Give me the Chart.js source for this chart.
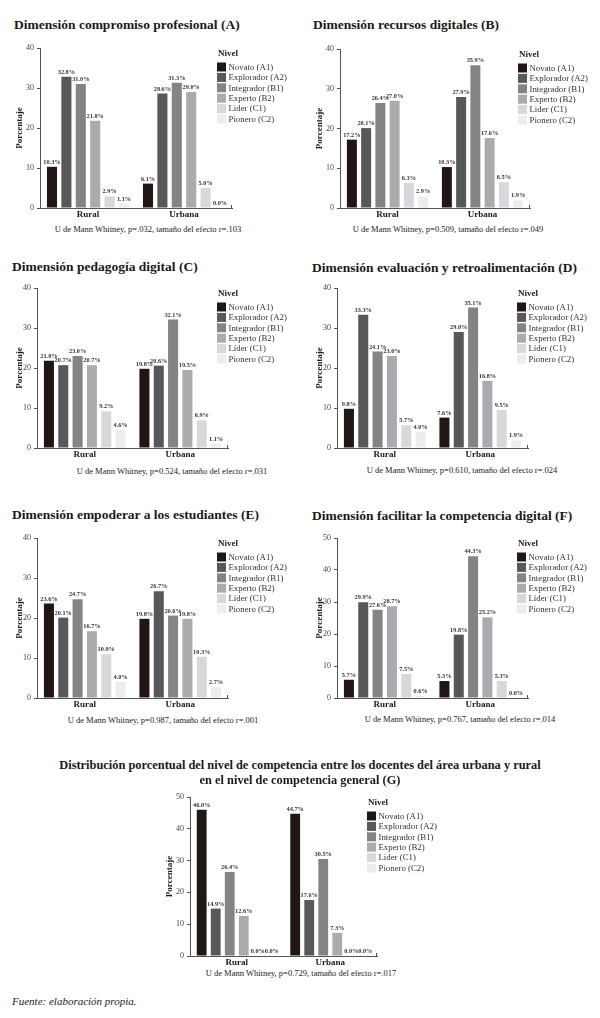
<!DOCTYPE html>
<html>
<head>
<meta charset="utf-8">
<script src="https://cdn.jsdelivr.net/npm/chart.js@4.4.1/dist/chart.umd.min.js"></script>
<style>
  body { margin: 0; background: #fff; width: 600px; height: 1018px; position: relative; overflow: hidden;
         font-family: "Liberation Serif", "DejaVu Serif", serif; color: #1a1a1a; }
  .t { position: absolute; font-weight: bold; font-size: 13.5px; line-height: 16px; white-space: nowrap; }
  .tg { position: absolute; left: 0; width: 600px; text-align: center; font-weight: bold; font-size: 12.4px; line-height: 15px; }
  .cap { position: absolute; font-size: 8.5px; line-height: 12px; white-space: nowrap; transform: translateX(-50%); color: #222; }
  .src { position: absolute; left: 12px; top: 994px; font-style: italic; font-size: 11px; line-height: 14px; }
  canvas { position: absolute; }
</style>
</head>
<body>
<div class="src">Fuente: elaboración propia.</div>
<script>
// categorias y niveles
const categories = ['Rural', 'Urbana'];
const levels = ['Novato (A1)', 'Explorador (A2)', 'Integrador (B1)', 'Experto (B2)', 'Lider (C1)', 'Pionero (C2)'];
const levelsAccent = ['Novato (A1)', 'Explorador (A2)', 'Integrador (B1)', 'Experto (B2)', 'Líder (C1)', 'Pionero (C2)'];
const levelColors = ['#201715', '#58585b', '#848487', '#ababaf', '#d8d8dc', '#ededf0'];

// porcentajes por nivel (A1..C2)
const ruralA  = [10.3, 32.8, 31.0, 21.8, 2.9, 1.1];
const urbanaA = [6.1, 28.6, 31.3, 29.0, 5.0, 0.0];
const ruralB  = [17.2, 20.1, 26.4, 27.0, 6.3, 2.9];
const urbanaB = [10.3, 27.9, 35.9, 17.6, 6.5, 1.9];
const ruralC  = [21.8, 20.7, 23.0, 20.7, 9.2, 4.6];
const urbanaC = [19.8, 20.6, 32.1, 19.5, 6.9, 1.1];
const ruralD  = [9.8, 33.3, 24.1, 23.0, 5.7, 4.0];
const urbanaD = [7.6, 29.0, 35.1, 16.8, 9.5, 1.9];
const ruralE  = [23.6, 20.1, 24.7, 16.7, 10.9, 4.0];
const urbanaE = [19.8, 26.7, 20.6, 19.8, 10.3, 2.7];
const ruralF  = [5.7, 29.9, 27.6, 28.7, 7.5, 0.6];
const urbanaF = [5.3, 19.8, 44.3, 25.2, 5.3, 0.0];
const ruralG  = [46.0, 14.9, 26.4, 12.6, 0.0, 0.0];
const urbanaG = [44.7, 17.6, 30.5, 7.3, 0.0, 0.0];

const yTicks40 = [0, 10, 20, 30, 40];
const yTicks50 = [0, 10, 20, 30, 40, 50];

const panels = [
  { title: 'Dimensión compromiso profesional (A)', rural: ruralA, urbana: urbanaA, ticks: yTicks40, names: levels,
    caption: 'U de Mann Whitney, p=.032, tamaño del efecto r=.103',
    x0: 0, top: 48, bottom: 208, left: 40, right: 232, tx: 14, ty: 25, cx: 148, cy: 229, lx: 217 },
  { title: 'Dimensión recursos digitales (B)', rural: ruralB, urbana: urbanaB, ticks: yTicks40, names: levels,
    caption: 'U de Mann Whitney, p=0.509, tamaño del efecto r=.049',
    x0: 300, top: 49, bottom: 208, left: 40, right: 230, tx: 313, ty: 25, cx: 448, cy: 229, lx: 218 },
  { title: 'Dimensión pedagogía digital (C)', rural: ruralC, urbana: urbanaC, ticks: yTicks40, names: levelsAccent,
    caption: 'U de Mann Whitney, p=0.524, tamaño del efecto r=.031',
    x0: 0, top: 288, bottom: 448, left: 37, right: 228, tx: 12, ty: 267, cx: 172, cy: 471, lx: 217 },
  { title: 'Dimensión evaluación y retroalimentación (D)', rural: ruralD, urbana: urbanaD, ticks: yTicks40, names: levelsAccent,
    caption: 'U de Mann Whitney, p=0.610, tamaño del efecto r=.024',
    x0: 300, top: 288, bottom: 448, left: 37, right: 228, tx: 312, ty: 268, cx: 462, cy: 470, lx: 217 },
  { title: 'Dimensión empoderar a los estudiantes (E)', rural: ruralE, urbana: urbanaE, ticks: yTicks40, names: levelsAccent,
    caption: 'U de Mann Whitney, p=0.987, tamaño del efecto r=.001',
    x0: 0, top: 538, bottom: 698, left: 37, right: 228, tx: 12, ty: 515, cx: 163, cy: 720, lx: 217 },
  { title: 'Dimensión facilitar la competencia digital (F)', rural: ruralF, urbana: urbanaF, ticks: yTicks50, names: levelsAccent,
    caption: 'U de Mann Whitney, p=0.767, tamaño del efecto r=.014',
    x0: 300, top: 538, bottom: 698, left: 37, right: 228, tx: 312, ty: 516, cx: 460, cy: 719, lx: 217 },
  { title: null, rural: ruralG, urbana: urbanaG, ticks: yTicks50, names: levels,
    caption: 'U de Mann Whitney, p=0.729, tamaño del efecto r=.017',
    x0: 150, top: 797, bottom: 956, left: 40, right: 227, tx: 0, ty: 0, cx: 301, cy: 973, lx: 217 }
];

const titleG1 = 'Distribución porcentual del nivel de competencia entre los docentes del área urbana y rural';
const titleG2 = 'en el nivel de competencia general (G)';

const serif = '"Liberation Serif", "DejaVu Serif", serif';

// etiquetas de valor encima de cada barra
const valueLabels = {
  id: 'valueLabels',
  afterDatasetsDraw(chart) {
    const ctx = chart.ctx;
    ctx.save();
    ctx.font = 'bold 6.3px ' + serif;
    ctx.fillStyle = '#333';
    ctx.textAlign = 'center';
    ctx.textBaseline = 'bottom';
    chart.data.datasets.forEach((ds, i) => {
      chart.getDatasetMeta(i).data.forEach((bar, j) => {
        ctx.fillText(ds.data[j].toFixed(1) + '%', bar.x, bar.y - 1.5);
      });
    });
    ctx.restore();
  }
};

// leyenda "Nivel" dentro del area del grafico, y la marquita al final del eje x
const nivelLegend = {
  id: 'nivelLegend',
  afterDraw(chart, args, opts) {
    const ctx = chart.ctx;
    const a = chart.chartArea;
    const x = opts.x, y = a.top;
    ctx.save();
    ctx.strokeStyle = '#555';
    ctx.lineWidth = 1;
    ctx.beginPath();
    ctx.moveTo(a.right - 0.5, a.bottom);
    ctx.lineTo(a.right - 0.5, a.bottom - 3);
    ctx.stroke();
    ctx.textBaseline = 'middle';
    ctx.fillStyle = '#222';
    ctx.font = 'bold 9px ' + serif;
    ctx.fillText('Nivel', x + 1, y + 6);
    ctx.font = '8.8px ' + serif;
    chart.data.datasets.forEach((ds, i) => {
      const yy = y + 19 + i * 10.4;
      ctx.fillStyle = ds.backgroundColor;
      ctx.fillRect(x, yy - 4.5, 9, 9);
      ctx.fillStyle = '#333';
      ctx.fillText(ds.label, x + 11.5, yy + 0.5);
    });
    ctx.restore();
  }
};

panels.forEach(p => {
  if (p.title) {
    const t = document.createElement('div');
    t.className = 't';
    t.style.left = p.tx + 'px';
    t.style.top = (p.ty - 8) + 'px';
    t.textContent = p.title;
    document.body.appendChild(t);
  }
  const c = document.createElement('div');
  c.className = 'cap';
  c.style.left = p.cx + 'px';
  c.style.top = (p.cy - 6) + 'px';
  c.textContent = p.caption;
  document.body.appendChild(c);

  const padTop = 12;
  const canvas = document.createElement('canvas');
  const h = padTop + (p.bottom - p.top) + 14;
  canvas.width = 300; canvas.height = h;
  canvas.style.left = p.x0 + 'px';
  canvas.style.top = (p.top - padTop) + 'px';
  document.body.appendChild(canvas);

  const datasets = p.names.map((name, i) => ({
    label: name,
    data: [p.rural[i], p.urbana[i]],
    backgroundColor: levelColors[i],
    barPercentage: 0.7,
    categoryPercentage: 0.9
  }));

  new Chart(canvas.getContext('2d'), {
    type: 'bar',
    data: { labels: categories, datasets: datasets },
    options: {
      responsive: false,
      animation: false,
      layout: { padding: { left: 14, right: 300 - p.right, top: padTop, bottom: 0 } },
      plugins: {
        legend: { display: false },
        tooltip: { enabled: false },
        nivelLegend: { x: p.lx }
      },
      scales: {
        x: {
          grid: { display: false, drawTicks: false },
          border: { display: true, color: '#555', width: 1 },
          ticks: { color: '#1a1a1a', padding: 1, font: { family: serif, size: 9, weight: 'bold' } },
          afterFit: s => { s.height = 14; }
        },
        y: {
          min: 0,
          max: p.ticks[p.ticks.length - 1],
          afterBuildTicks: s => { s.ticks = p.ticks.map(v => ({ value: v })); },
          grid: { display: true, drawOnChartArea: false, drawTicks: true, tickLength: 3, color: '#555' },
          border: { display: true, color: '#555', width: 1 },
          ticks: { color: '#444', padding: 3, font: { family: serif, size: 8 } },
          title: { display: true, text: 'Porcentaje', color: '#1a1a1a', padding: 0,
                   font: { family: serif, size: 9, weight: 'bold' } },
          afterFit: s => { s.width = p.left - 14; }
        }
      }
    },
    plugins: [valueLabels, nivelLegend]
  });
});

const g1 = document.createElement('div');
g1.className = 'tg';
g1.style.top = (765 - 7.5) + 'px';
g1.textContent = titleG1;
document.body.appendChild(g1);
const g2 = document.createElement('div');
g2.className = 'tg';
g2.style.top = (780 - 7.5) + 'px';
g2.textContent = titleG2;
document.body.appendChild(g2);
</script>
</body>
</html>
